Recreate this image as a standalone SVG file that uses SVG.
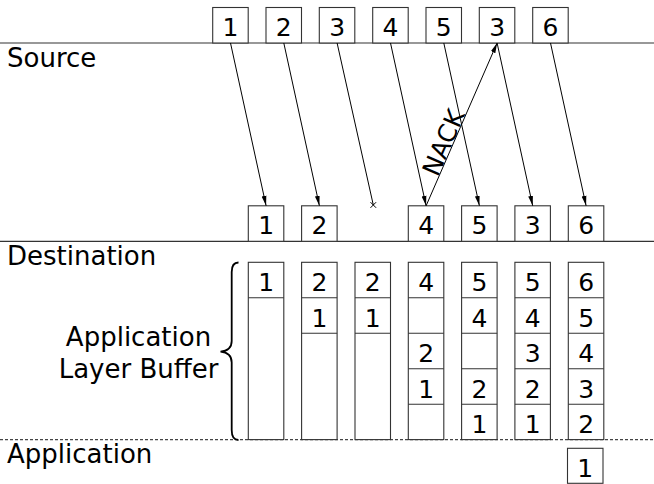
<svg xmlns="http://www.w3.org/2000/svg" width="654" height="484" viewBox="0 0 654 484">
<defs>
<marker id="ah" markerUnits="userSpaceOnUse" markerWidth="10" markerHeight="8" viewBox="0 0 10 8" refX="10" refY="4" orient="auto">
<path d="M0,1.6 L10,4 L0,6.4 Z" fill="#000"/>
</marker>
<style>
.b{fill:#fff;stroke:#333;stroke-width:1.1}
.c{fill:none;stroke:#333;stroke-width:1.1}
.d{font-family:"DejaVu Sans",sans-serif;font-size:25px;text-anchor:middle;fill:#000}
.l{font-family:"DejaVu Sans",sans-serif;font-size:26px;fill:#000}
.a{stroke:#000;stroke-width:1;fill:none;marker-end:url(#ah)}
.h{stroke:#333;stroke-width:1.2}
</style>
</defs>
<rect width="654" height="484" fill="#fff"/>

<g id="lanes">
<line class="h" x1="0" y1="43" x2="654" y2="43"/>
<line class="h" x1="0" y1="241.3" x2="654" y2="241.3"/>
<line x1="0" y1="439.6" x2="654" y2="439.6" stroke="#444" stroke-width="1.2" stroke-dasharray="3,2"/>
<text class="l" x="7" y="66.7">Source</text>
<text class="l" x="7" y="264.7">Destination</text>
<text class="l" x="7" y="463.3">Application</text>
</g>

<g id="source">
<rect class="b" x="212.7" y="7.5" width="35.5" height="35.5"/><text class="d" x="230.5" y="36">1</text>
<rect class="b" x="266" y="7.5" width="35.5" height="35.5"/><text class="d" x="283.8" y="36">2</text>
<rect class="b" x="319.3" y="7.5" width="35.5" height="35.5"/><text class="d" x="337.1" y="36">3</text>
<rect class="b" x="372.7" y="7.5" width="35.5" height="35.5"/><text class="d" x="390.5" y="36">4</text>
<rect class="b" x="426" y="7.5" width="35.5" height="35.5"/><text class="d" x="443.8" y="36">5</text>
<rect class="b" x="479.3" y="7.5" width="35.5" height="35.5"/><text class="d" x="497.1" y="36">3</text>
<rect class="b" x="532.7" y="7.5" width="35.5" height="35.5"/><text class="d" x="550.5" y="36">6</text>
</g>

<g id="destination">
<rect class="b" x="248.3" y="205.8" width="35.5" height="35.5"/><text class="d" x="266.1" y="234.4">1</text>
<rect class="b" x="301.6" y="205.8" width="35.5" height="35.5"/><text class="d" x="319.4" y="234.4">2</text>
<rect class="b" x="408.3" y="205.8" width="35.5" height="35.5"/><text class="d" x="426.1" y="234.4">4</text>
<rect class="b" x="461.6" y="205.8" width="35.5" height="35.5"/><text class="d" x="479.4" y="234.4">5</text>
<rect class="b" x="514.9" y="205.8" width="35.5" height="35.5"/><text class="d" x="532.7" y="234.4">3</text>
<rect class="b" x="568.3" y="205.8" width="35.5" height="35.5"/><text class="d" x="586.1" y="234.4">6</text>
</g>

<g id="connectors">
<line class="a" x1="230.5" y1="43" x2="266.1" y2="205.8"/>
<line class="a" x1="283.8" y1="43" x2="319.4" y2="205.8"/>
<line x1="337.1" y1="43" x2="373.3" y2="205" stroke="#000" stroke-width="1"/>
<line x1="370.5" y1="202.2" x2="376.1" y2="207.8" stroke="#000" stroke-width="1"/>
<line x1="376.1" y1="202.2" x2="370.5" y2="207.8" stroke="#000" stroke-width="1"/>
<line class="a" x1="390.5" y1="43" x2="426.1" y2="205.8"/>
<line class="a" x1="443.8" y1="43" x2="479.4" y2="205.8"/>
<line class="a" x1="497.1" y1="43" x2="532.7" y2="205.8"/>
<line class="a" x1="550.5" y1="43" x2="586.1" y2="205.8"/>
<line class="a" x1="426.1" y1="205.8" x2="497.1" y2="43"/>
<text font-family="DejaVu Sans, sans-serif" font-size="25" text-anchor="middle" transform="translate(451.5,146) rotate(-66.4)">NACK</text>
</g>

<g id="buffer-label">
<path d="M238.5,262.5 C233.5,262.5 231.7,266 231.7,272 L231.7,341 C231.7,347.5 227.5,351 220.5,351.6 C227.5,352.2 231.7,356 231.7,362.5 L231.7,430 C231.7,436.5 233.5,440 238.5,440" fill="none" stroke="#000" stroke-width="1.8"/>
<text class="l" x="138.5" y="345.7" text-anchor="middle">Application</text>
<text class="l" x="138.5" y="378.3" text-anchor="middle">Layer Buffer</text>
</g>

<g id="buffer-1">
<rect class="b" x="248.3" y="262.3" width="35.5" height="177.3"/>
<line class="c" x1="248.3" y1="297.8" x2="283.8" y2="297.8"/>
<text class="d" x="266.1" y="291">1</text>
</g>
<g id="buffer-2">
<rect class="b" x="301.6" y="262.3" width="35.5" height="177.3"/>
<line class="c" x1="301.6" y1="297.8" x2="337.1" y2="297.8"/>
<line class="c" x1="301.6" y1="333.3" x2="337.1" y2="333.3"/>
<text class="d" x="319.4" y="291">2</text><text class="d" x="319.4" y="326.5">1</text>
</g>
<g id="buffer-3">
<rect class="b" x="355" y="262.3" width="35.5" height="177.3"/>
<line class="c" x1="355" y1="297.8" x2="390.5" y2="297.8"/>
<line class="c" x1="355" y1="333.3" x2="390.5" y2="333.3"/>
<text class="d" x="372.8" y="291">2</text><text class="d" x="372.8" y="326.5">1</text>
</g>
<g id="buffer-4">
<rect class="b" x="408.3" y="262.3" width="35.5" height="177.3"/>
<line class="c" x1="408.3" y1="297.8" x2="443.8" y2="297.8"/>
<line class="c" x1="408.3" y1="333.3" x2="443.8" y2="333.3"/>
<line class="c" x1="408.3" y1="368.8" x2="443.8" y2="368.8"/>
<line class="c" x1="408.3" y1="404.3" x2="443.8" y2="404.3"/>
<text class="d" x="426.1" y="291">4</text><text class="d" x="426.1" y="362">2</text><text class="d" x="426.1" y="397.5">1</text>
</g>
<g id="buffer-5">
<rect class="b" x="461.6" y="262.3" width="35.5" height="177.3"/>
<line class="c" x1="461.6" y1="297.8" x2="497.1" y2="297.8"/>
<line class="c" x1="461.6" y1="333.3" x2="497.1" y2="333.3"/>
<line class="c" x1="461.6" y1="368.8" x2="497.1" y2="368.8"/>
<line class="c" x1="461.6" y1="404.3" x2="497.1" y2="404.3"/>
<text class="d" x="479.4" y="291">5</text><text class="d" x="479.4" y="326.5">4</text><text class="d" x="479.4" y="397.5">2</text><text class="d" x="479.4" y="433">1</text>
</g>
<g id="buffer-6">
<rect class="b" x="514.9" y="262.3" width="35.5" height="177.3"/>
<line class="c" x1="514.9" y1="297.8" x2="550.4" y2="297.8"/>
<line class="c" x1="514.9" y1="333.3" x2="550.4" y2="333.3"/>
<line class="c" x1="514.9" y1="368.8" x2="550.4" y2="368.8"/>
<line class="c" x1="514.9" y1="404.3" x2="550.4" y2="404.3"/>
<text class="d" x="532.7" y="291">5</text><text class="d" x="532.7" y="326.5">4</text><text class="d" x="532.7" y="362">3</text><text class="d" x="532.7" y="397.5">2</text><text class="d" x="532.7" y="433">1</text>
</g>
<g id="buffer-7">
<rect class="b" x="568.3" y="262.3" width="35.5" height="177.3"/>
<line class="c" x1="568.3" y1="297.8" x2="603.8" y2="297.8"/>
<line class="c" x1="568.3" y1="333.3" x2="603.8" y2="333.3"/>
<line class="c" x1="568.3" y1="368.8" x2="603.8" y2="368.8"/>
<line class="c" x1="568.3" y1="404.3" x2="603.8" y2="404.3"/>
<text class="d" x="586.1" y="291">6</text><text class="d" x="586.1" y="326.5">5</text><text class="d" x="586.1" y="362">4</text><text class="d" x="586.1" y="397.5">3</text><text class="d" x="586.1" y="433">2</text>
</g>

<g id="application">
<rect class="b" x="567.5" y="448.3" width="35.5" height="35"/>
<text class="d" x="585.3" y="477">1</text>
</g>
</svg>
